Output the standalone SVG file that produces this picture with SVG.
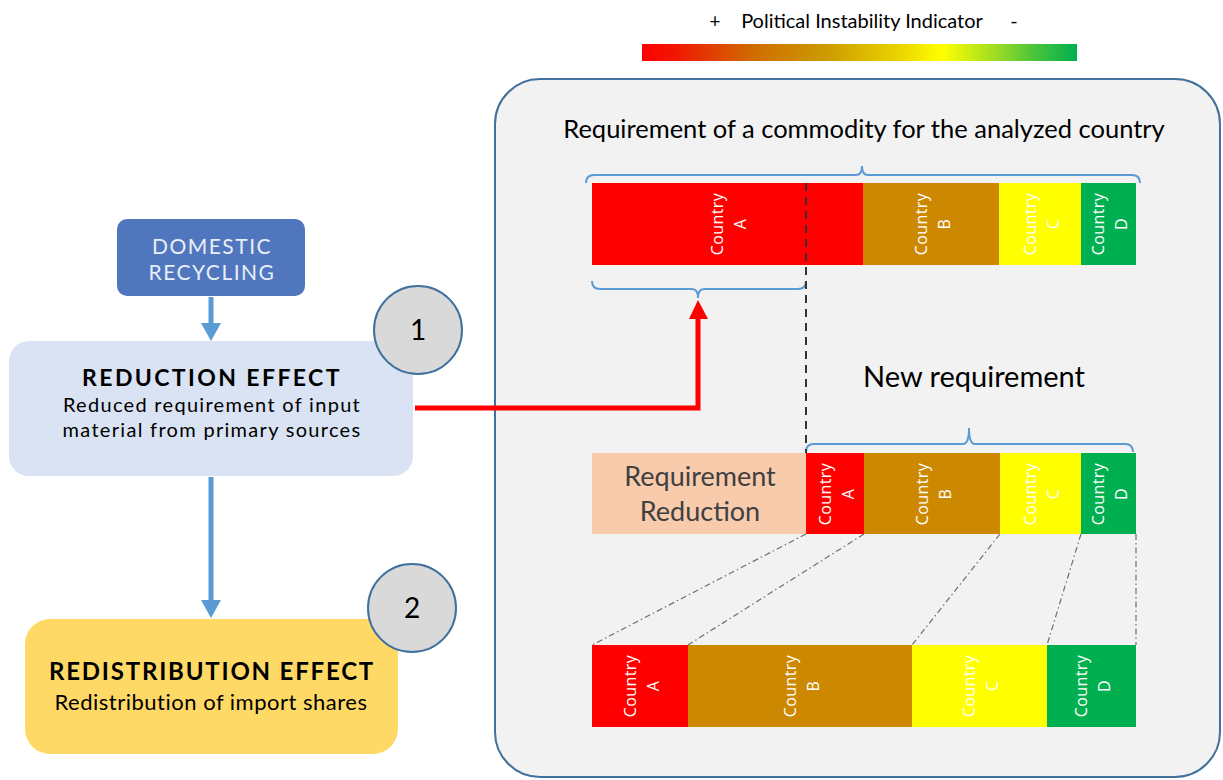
<svg xmlns="http://www.w3.org/2000/svg" width="1223" height="780" viewBox="0 0 1223 780">
<defs>
<linearGradient id="pii" x1="0" y1="0" x2="1" y2="0">
<stop offset="0" stop-color="#ff0000"/>
<stop offset="0.08" stop-color="#f01800"/>
<stop offset="0.25" stop-color="#d06a00"/>
<stop offset="0.42" stop-color="#cc9a00"/>
<stop offset="0.58" stop-color="#e8d000"/>
<stop offset="0.69" stop-color="#ffff00"/>
<stop offset="0.8" stop-color="#a8e020"/>
<stop offset="0.9" stop-color="#4cc43a"/>
<stop offset="1" stop-color="#00b050"/>
</linearGradient>
<style>
.t{font-family:Lato,"Open Sans","Liberation Sans",sans-serif;fill:#000}
.cl{font-family:"Open Sans","Liberation Sans",sans-serif;font-size:16px;letter-spacing:0.4px;fill:#fff;text-anchor:middle}
.brace{fill:none;stroke:#5b9bd5;stroke-width:2}
.guide{fill:none;stroke:#6f6f6f;stroke-width:1.2;stroke-dasharray:6 3 1.5 3}
.blue{fill:none;stroke:#5b9bd5;stroke-width:5}
.num{fill:#d9d9d9;stroke:#41719c;stroke-width:2}
.red{fill:#ff0000}.brn{fill:#cc8800}.yel{fill:#ffff00}.grn{fill:#00b050}
.gray{fill:#404040}
.light{fill:#e8eef8}
</style>
</defs>
<rect width="1223" height="780" fill="#ffffff"/>

<g id="legend">
<text class="t" x="715" y="28" font-size="19" text-anchor="middle">+</text>
<text class="t" x="862" y="28" font-size="20" text-anchor="middle">Political Instability Indicator</text>
<text class="t" x="1014" y="28" font-size="20" text-anchor="middle">-</text>
<rect x="642" y="44" width="435" height="17" fill="url(#pii)"/>
</g>

<g id="panel">
<rect x="495" y="79" width="725" height="698" rx="45" ry="45" fill="#f2f2f2" stroke="#41719c" stroke-width="2"/>
<text class="t" x="864" y="138" font-size="25.5" text-anchor="middle">Requirement of a commodity for the analyzed country</text>
<text class="t" x="974" y="387" font-size="29" text-anchor="middle">New requirement</text>
</g>

<g id="top-bar">
<rect class="red" x="592" y="183" width="271" height="82"/>
<rect class="brn" x="863" y="183" width="136" height="82"/>
<rect class="yel" x="999" y="183" width="82" height="82"/>
<rect class="grn" x="1081" y="183" width="55" height="82"/>
<g transform="translate(727,224) rotate(-90)"><text class="cl" y="-4">Country</text><text class="cl" y="19">A</text></g>
<g transform="translate(931,224) rotate(-90)"><text class="cl" y="-4">Country</text><text class="cl" y="19">B</text></g>
<g transform="translate(1040,224) rotate(-90)"><text class="cl" y="-4">Country</text><text class="cl" y="19">C</text></g>
<g transform="translate(1108,224) rotate(-90)"><text class="cl" y="-4">Country</text><text class="cl" y="19">D</text></g>
</g>

<g id="middle-bar">
<rect x="592" y="453" width="214" height="81" fill="#f8cbad"/>
<text class="t gray" x="700" y="486" font-size="27" text-anchor="middle">Requirement</text>
<text class="t gray" x="700" y="521" font-size="27" text-anchor="middle">Reduction</text>
<rect class="red" x="806" y="453" width="58" height="81"/>
<rect class="brn" x="864" y="453" width="136" height="81"/>
<rect class="yel" x="1000" y="453" width="81" height="81"/>
<rect class="grn" x="1081" y="453" width="55" height="81"/>
<g transform="translate(835,494) rotate(-90)"><text class="cl" y="-4">Country</text><text class="cl" y="19">A</text></g>
<g transform="translate(932,494) rotate(-90)"><text class="cl" y="-4">Country</text><text class="cl" y="19">B</text></g>
<g transform="translate(1040,494) rotate(-90)"><text class="cl" y="-4">Country</text><text class="cl" y="19">C</text></g>
<g transform="translate(1108,494) rotate(-90)"><text class="cl" y="-4">Country</text><text class="cl" y="19">D</text></g>
</g>

<g id="bottom-bar">
<rect class="red" x="592" y="645" width="96" height="82"/>
<rect class="brn" x="688" y="645" width="224" height="82"/>
<rect class="yel" x="912" y="645" width="135" height="82"/>
<rect class="grn" x="1047" y="645" width="89" height="82"/>
<g transform="translate(640,686) rotate(-90)"><text class="cl" y="-4">Country</text><text class="cl" y="19">A</text></g>
<g transform="translate(800,686) rotate(-90)"><text class="cl" y="-4">Country</text><text class="cl" y="19">B</text></g>
<g transform="translate(979,686) rotate(-90)"><text class="cl" y="-4">Country</text><text class="cl" y="19">C</text></g>
<g transform="translate(1091,686) rotate(-90)"><text class="cl" y="-4">Country</text><text class="cl" y="19">D</text></g>
</g>

<g id="domestic-recycling">
<rect x="117" y="219" width="188" height="77" rx="10" ry="10" fill="#5077be"/>
<text class="t light" x="212" y="254" font-size="21" letter-spacing="1.5" text-anchor="middle">DOMESTIC</text>
<text class="t light" x="212" y="280" font-size="21" letter-spacing="1.5" text-anchor="middle">RECYCLING</text>
</g>

<g id="reduction-effect">
<rect x="9" y="341" width="404" height="135" rx="20" ry="20" fill="#dae3f3"/>
<text class="t" x="212" y="386" font-size="23" font-weight="bold" letter-spacing="2.4" text-anchor="middle">REDUCTION EFFECT</text>
<text class="t" x="212" y="412" font-size="20" letter-spacing="1.3" text-anchor="middle">Reduced requirement of input</text>
<text class="t" x="212" y="437" font-size="20" letter-spacing="1.3" text-anchor="middle">material from primary sources</text>
</g>

<g id="redistribution-effect">
<rect x="25" y="619" width="373" height="135" rx="25" ry="25" fill="#ffd966"/>
<text class="t" x="212" y="680" font-size="24" font-weight="bold" letter-spacing="1.8" text-anchor="middle">REDISTRIBUTION EFFECT</text>
<text class="t" x="211" y="710" font-size="22" letter-spacing="0.5" text-anchor="middle">Redistribution of import shares</text>
</g>

<g id="badge-1">
<circle class="num" cx="418" cy="330" r="44"/>
<text class="t" x="418" y="340" font-size="28" text-anchor="middle">1</text>
</g>
<g id="badge-2">
<circle class="num" cx="412" cy="608" r="44"/>
<text class="t" x="412" y="618" font-size="28" text-anchor="middle">2</text>
</g>

<g id="connectors">
<path class="brace" d="M586,183 Q586,175 594,175 L856,175 Q862,175 862,166 Q862,175 868,175 L1132,175 Q1140,175 1140,183"/>
<path class="brace" d="M592,281 Q592,289 600,289 L692,289 Q698,289 698,298 Q698,289 704,289 L798,289 Q806,289 806,281"/>
<path class="brace" d="M806,452 Q806,444 814,444 L963,444 Q969,444 969,428 Q969,444 975,444 L1125,444 Q1133,444 1133,452"/>
<line x1="806" y1="183" x2="806" y2="453" stroke="#333333" stroke-width="2" stroke-dasharray="8 6"/>
<line class="guide" x1="806" y1="534" x2="592" y2="645"/>
<line class="guide" x1="864" y1="534" x2="688" y2="645"/>
<line class="guide" x1="1000" y1="534" x2="912" y2="645"/>
<line class="guide" x1="1081" y1="534" x2="1047" y2="645"/>
<line class="guide" x1="1136" y1="534" x2="1136" y2="645" stroke-dasharray="4 3"/>
<path d="M415,408 L698,408 L698,318" fill="none" stroke="#ff0000" stroke-width="5"/>
<path d="M689,319 L698,300 L708,319 Z" fill="#ff0000"/>
<line class="blue" x1="211" y1="297" x2="211" y2="324"/>
<path d="M201,323 L211,341 L221,323 Z" fill="#5b9bd5"/>
<line class="blue" x1="211" y1="477" x2="211" y2="601"/>
<path d="M201,600 L211,618 L221,600 Z" fill="#5b9bd5"/>
</g>
</svg>
